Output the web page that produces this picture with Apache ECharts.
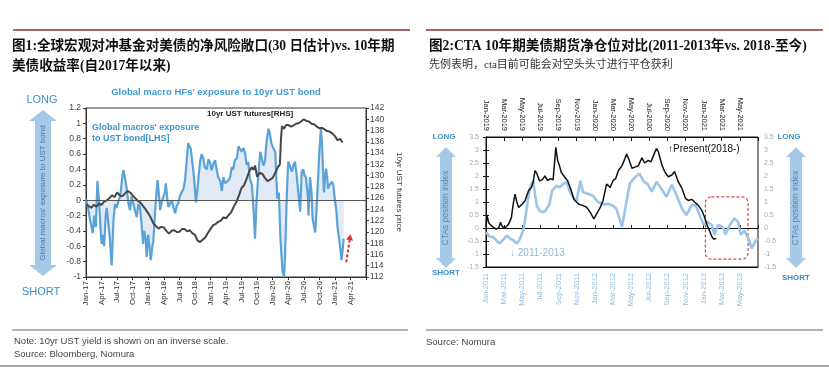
<!DOCTYPE html>
<html><head><meta charset="utf-8">
<script src="https://cdn.jsdelivr.net/npm/echarts/dist/echarts.min.js"></script>
<style>html,body{margin:0;padding:0;background:#fff}#c{width:829px;height:367px}</style>
</head><body><div id="c"></div>
<script>
// ---------- Figure 1 data (x = months since Jan-2017) ----------
const fig1XLabels = ['Jan-17','Apr-17','Jul-17','Oct-17','Jan-18','Apr-18','Jul-18','Oct-18','Jan-19','Apr-19','Jul-19','Oct-19','Jan-20','Apr-20','Jul-20','Oct-20','Jan-21','Apr-21'];
// Global macros' exposure to UST bond (LHS)
const fig1Exposure = [
[0.0,0.02],[0.4,-0.1],[0.8,-0.26],[1.3,-0.43],[1.6,-0.2],[1.9,-0.35],[2.2,0.25],[2.5,0.0],[2.8,-0.35],[3.0,-0.57],
[3.3,-0.45],[3.5,-0.6],[3.8,-0.2],[4.0,-0.1],[4.3,-0.3],[4.6,-0.5],[4.95,-0.85],[5.3,-0.26],[5.6,-0.05],[5.9,-0.1],
[6.3,0.0],[6.6,0.05],[7.0,0.3],[7.2,0.39],[7.5,0.3],[7.8,0.17],[8.2,-0.05],[8.5,-0.13],[8.8,0.05],[9.1,0.04],
[9.5,-0.15],[9.8,-0.22],[10.1,-0.05],[10.4,-0.09],[10.7,-0.3],[11.0,-0.57],[11.2,-0.4],[11.5,-0.5],[11.7,-0.74],[12.0,-0.45],
[12.2,-0.43],[12.5,-0.78],[12.8,-0.6],[13.0,-0.52],[13.3,-0.17],[13.6,0.1],[13.8,0.26],[14.1,0.05],[14.3,-0.13],[14.6,-0.02],
[14.9,-0.04],[15.2,0.1],[15.4,0.22],[15.7,0.0],[15.9,-0.09],[16.2,-0.05],[16.5,0.0],[16.9,-0.1],[17.2,-0.17],[17.5,-0.08],
[17.8,-0.04],[18.1,0.05],[18.5,0.11],[18.8,0.15],[19.1,0.26],[19.4,0.5],[19.7,0.74],[20.0,0.7],[20.2,0.67],[20.5,0.5],
[20.7,0.39],[21.0,0.15],[21.2,-0.03],[21.5,0.15],[21.7,0.3],[22.0,0.5],[22.3,0.6],[22.6,0.55],[22.9,0.43],[23.3,0.4],
[23.6,0.53],[23.9,0.5],[24.2,0.39],[24.6,0.48],[24.9,0.52],[25.2,0.4],[25.5,0.3],[25.9,0.25],[26.2,0.12],[26.5,0.3],
[26.8,0.22],[27.1,0.2],[27.5,0.26],[27.8,0.3],[28.1,0.43],[28.4,0.4],[28.7,0.52],[29.1,0.55],[29.4,0.7],[29.7,0.69],
[30.0,0.63],[30.4,0.68],[30.7,0.6],[31.0,0.46],[31.3,0.5],[31.6,0.28],[32.0,0.2],[32.3,-0.11],[32.6,-0.5],[32.9,0.0],
[33.2,0.3],[33.6,0.63],[33.9,0.55],[34.2,0.45],[34.5,0.5],[34.8,0.75],[35.2,0.93],[35.5,0.85],[35.8,0.73],[36.1,0.68],
[36.5,0.63],[36.7,0.3],[36.9,0.02],[37.2,0.1],[37.5,-0.5],[37.9,-0.93],[38.2,-1.0],[38.4,-0.7],[38.6,-0.24],[38.8,0.2],
[39.0,0.5],[39.3,0.45],[39.7,0.37],[40.0,0.45],[40.3,0.5],[40.6,0.35],[40.8,0.2],[41.1,0.0],[41.3,-0.15],[41.5,0.2],
[41.6,0.37],[41.9,0.4],[42.1,0.33],[42.4,0.3],[42.6,0.28],[42.8,0.05],[42.9,-0.2],[43.1,0.1],[43.2,0.3],[43.5,0.1],
[43.7,-0.24],[44.0,-0.35],[44.2,-0.42],[44.4,-0.2],[44.6,0.07],[44.8,0.35],[45.0,0.63],[45.3,0.93],[45.5,0.75],[45.7,0.4],
[45.9,0.1],[46.1,0.3],[46.3,0.41],[46.5,0.3],[46.7,0.15],[47.0,0.2],[47.4,0.24],[47.7,0.2],[48.0,0.0],[48.3,-0.15],
[48.5,-0.34],[48.8,-0.5],[49.0,-0.6],[49.3,-0.78],[49.5,-0.65],[49.7,-0.5]
];
// 10yr UST futures price (RHS)
const fig1Futures = [
[0,124.9],[0.5,124.6],[1,124.3],[1.5,124.8],[2,124.5],[2.5,125.0],[3,124.8],[3.5,125.4],[4,125.6],[4.5,126.0],
[5,126.5],[5.5,126.2],[6,127.0],[6.5,126.5],[7,126.3],[7.5,126.8],[8,127.3],[8.5,127.0],[9,126.5],[9.5,126.0],
[10,125.5],[10.5,125.2],[11,124.6],[11.5,124.0],[12,123.3],[12.5,122.5],[13,121.5],[13.5,121.0],[14,120.6],[14.5,120.9],
[15,120.8],[15.5,120.2],[16,119.7],[16.5,120.2],[17,120.3],[17.5,120.0],[18,120.0],[18.5,120.5],[19,120.5],[19.5,120.1],
[20,120.3],[20.5,119.8],[21,119.5],[21.5,118.5],[22,118.2],[22.5,118.6],[23,119.0],[23.5,119.8],[24,120.5],[24.5,121.2],
[25,121.4],[25.5,121.8],[26,122.0],[26.5,122.6],[27,122.4],[27.5,123.0],[28,123.5],[28.5,124.5],[29,125.3],[29.5,126.5],
[30,127.8],[30.5,128.3],[31,129.5],[31.5,130.8],[32,131.5],[32.3,131.0],[32.6,131.8],[33,129.8],[33.5,130.5],[34,130.3],
[34.5,129.6],[35,129.0],[35.5,129.3],[36,129.6],[36.5,130.5],[37,131.5],[37.4,132.0],[37.6,136.5],[37.8,138.8],[38.2,138.3],
[38.6,139.0],[39,139.0],[39.5,138.7],[40,138.9],[40.5,139.2],[41,139.3],[41.5,139.6],[42,140.0],[42.5,139.7],[43,139.6],
[43.5,139.2],[44,139.1],[44.5,138.7],[45,138.4],[45.5,138.5],[46,138.2],[46.5,137.9],[47,137.8],[47.5,137.5],[48,137.0],
[48.5,136.3],[49,136.5],[49.5,135.9]
];

// ---------- Figure 2 data (x = months since Jan of first year) ----------
const fig2TopLabels = ['Jan-2019','Mar-2019','May-2019','Jul-2019','Sep-2019','Nov-2019','Jan-2020','Mar-2020','May-2020','Jul-2020','Sep-2020','Nov-2020','Jan-2021','Mar-2021','May-2021'];
const fig2BottomLabels = ['Jan-2011','Mar-2011','May-2011','Jul-2011','Sep-2011','Nov-2011','Jan-2012','Mar-2012','May-2012','Jul-2012','Sep-2012','Nov-2012','Jan-2013','Mar-2013','May-2013'];
// Present (2018-), months since Jan-2019
const fig2Present = [
[0.0,0.05],[0.1,0.5],[0.3,0.2],[0.5,0.12],[0.8,0.03],[1.1,-0.04],[1.4,0.0],[1.6,0.22],[1.8,0.05],[2.1,0.0],
[2.5,0.15],[2.8,0.4],[3.0,0.92],[3.2,1.3],[3.4,1.0],[3.6,0.79],[4.0,0.92],[4.3,1.05],[4.7,1.44],[5.0,1.56],
[5.2,1.76],[5.4,2.21],[5.6,2.1],[5.9,1.82],[6.2,1.85],[6.5,2.0],[6.8,1.82],[7.1,1.9],[7.4,1.85],[7.7,3.1],
[7.9,2.6],[8.1,2.4],[8.3,2.14],[8.7,1.95],[9.0,1.82],[9.4,1.44],[9.7,1.1],[10.2,0.92],[10.7,0.86],[11.1,0.8],
[11.5,0.6],[11.9,0.35],[12.2,0.54],[12.6,0.79],[12.9,1.05],[13.3,1.69],[13.5,1.76],[13.7,1.56],[14.0,1.82],[14.3,1.9],
[14.6,2.2],[15.0,2.4],[15.3,2.65],[15.5,2.85],[15.8,2.6],[16.1,2.3],[16.5,2.35],[16.8,2.4],[17.2,2.7],[17.5,2.5],
[17.9,2.6],[18.2,2.55],[18.6,2.9],[18.8,3.06],[19.0,2.94],[19.4,2.42],[19.7,2.17],[20.1,1.97],[20.5,2.04],[20.8,2.17],
[21.2,1.78],[21.6,1.53],[22.0,1.14],[22.3,1.06],[22.7,1.1],[23.0,1.0],[23.4,0.88],[23.8,0.68],[24.1,0.42],[24.4,0.1],
[24.7,-0.14],[24.9,-0.33],[25.1,-0.42],[25.3,-0.38],[25.4,-0.4]
];
// 2011-2013, months since Jan-2011
const fig2Past = [
[0.0,-0.17],[0.4,-0.33],[0.8,-0.35],[1.1,-0.46],[1.5,-0.6],[1.9,-0.45],[2.3,-0.29],[2.7,-0.42],[3.0,-0.46],[3.4,-0.6],
[3.7,-0.45],[4.1,-0.1],[4.3,0.28],[4.5,0.79],[4.7,1.24],[5.0,1.69],[5.2,1.82],[5.4,1.3],[5.6,0.86],[5.9,0.67],
[6.3,0.6],[6.6,0.67],[7.0,0.92],[7.3,1.44],[7.8,1.63],[8.1,1.56],[8.5,1.69],[8.9,1.76],[9.2,1.44],[9.6,1.18],
[10.0,1.05],[10.4,1.82],[10.7,1.38],[11.3,1.31],[11.8,1.24],[12.4,0.98],[12.9,0.92],[13.5,0.92],[14.0,0.86],[14.4,0.73],
[14.7,0.37],[15.0,0.05],[15.3,0.63],[15.7,1.4],[15.9,1.73],[16.2,1.86],[16.9,2.1],[17.4,1.78],[17.8,1.7],[18.3,1.4],
[18.8,1.78],[19.3,1.53],[19.9,1.2],[20.5,1.66],[21.0,1.27],[21.6,0.76],[22.1,0.5],[22.7,0.88],[23.1,0.88],[23.4,0.63],
[24.0,0.12],[24.4,0.24],[24.9,0.12],[25.2,-0.26],[25.6,0.12],[26.2,0.0],[26.4,-0.26],[26.9,0.12],[27.4,0.37],[27.8,0.24],
[28.1,-0.26],[28.5,-0.1],[29.0,-0.46],[29.3,-0.78],[29.7,-0.52],[30.0,-0.4]
];

const SERIF_CJK = '"Liberation Serif","Noto Sans CJK SC",serif';
const SANS = '"Liberation Sans","Noto Sans CJK SC",sans-serif';
const chart = echarts.init(document.getElementById('c'), null, {renderer:'canvas', width:829, height:367});
const fmt1 = v => String(Math.round(v*10)/10);

const option = {
  animation:false,
  backgroundColor:'#ffffff',
  grid:[
    {left:86, top:108, width:280, height:169, show:true, borderColor:'#333', borderWidth:1, containLabel:false},
    {left:486, top:137, width:272, height:130, show:true, borderColor:'#111', borderWidth:1, containLabel:false}
  ],
  xAxis:[
    {gridIndex:0, type:'value', min:0, max:54, interval:3, position:'bottom',
     axisLine:{show:true, onZero:false, lineStyle:{color:'#333'}},
     axisTick:{show:true, length:3, lineStyle:{color:'#333'}}, splitLine:{show:false},
     axisLabel:{rotate:90, fontSize:8, fontFamily:SANS, color:'#333', margin:4, formatter:v=>fig1XLabels[Math.round(v/3)]||''}},
    {gridIndex:1, type:'value', min:0, max:30, interval:2, position:'top',
     axisLine:{show:true, onZero:false, lineStyle:{color:'#111'}},
     axisTick:{show:true, inside:true, length:4, lineStyle:{color:'#111'}}, splitLine:{show:false},
     axisLabel:{rotate:90, fontSize:7.5, fontFamily:SANS, color:'#222', margin:6, formatter:v=>fig2TopLabels[Math.round(v/2)]||''}},
    {gridIndex:1, type:'value', min:0, max:30, interval:2, position:'bottom',
     axisLine:{show:true, onZero:false, lineStyle:{color:'#111'}},
     axisTick:{show:false}, splitLine:{show:false},
     axisLabel:{rotate:90, fontSize:7.5, fontFamily:SANS, color:'#8dbbe0', margin:6, formatter:v=>fig2BottomLabels[Math.round(v/2)]||''}},
    {gridIndex:1, type:'value', min:0, max:30, interval:2, position:'bottom',
     axisLine:{show:true, onZero:true, onZeroAxisIndex:2, lineStyle:{color:'#111', width:1}},
     axisTick:{show:true, inside:true, length:3, lineStyle:{color:'#111'}}, splitLine:{show:false},
     axisLabel:{show:false}}
  ],
  yAxis:[
    {gridIndex:0, type:'value', min:-1, max:1.2, interval:0.2, position:'left',
     axisLine:{show:true, lineStyle:{color:'#333'}}, axisTick:{show:true, length:3, lineStyle:{color:'#333'}},
     splitLine:{show:false}, axisLabel:{fontSize:8.5, fontFamily:SANS, color:'#444', margin:5, formatter:fmt1}},
    {gridIndex:0, type:'value', min:112, max:142, interval:2, position:'right',
     axisLine:{show:true, lineStyle:{color:'#333'}}, axisTick:{show:true, length:3, lineStyle:{color:'#333'}},
     splitLine:{show:false}, axisLabel:{fontSize:8.5, fontFamily:SANS, color:'#444', margin:4}},
    {gridIndex:1, type:'value', min:-1.5, max:3.5, interval:0.5, position:'left',
     axisLine:{show:true, lineStyle:{color:'#111'}}, axisTick:{show:true, length:3, lineStyle:{color:'#111'}},
     splitLine:{show:false}, axisLabel:{fontSize:7, fontFamily:SANS, color:'#aaa', margin:7, formatter:fmt1}},
    {gridIndex:1, type:'value', min:-1.5, max:3.5, interval:0.5, position:'right',
     axisLine:{show:true, lineStyle:{color:'#111'}}, axisTick:{show:true, length:3, lineStyle:{color:'#111'}},
     splitLine:{show:false}, axisLabel:{fontSize:7, fontFamily:SANS, color:'#aaa', margin:6, formatter:fmt1}}
  ],
  series:[
    {name:'exposure', type:'line', xAxisIndex:0, yAxisIndex:0, data:fig1Exposure, showSymbol:false, symbol:'none',
     lineStyle:{color:'#5aa3d8', width:2.2}, areaStyle:{color:'rgba(170,195,228,0.5)', origin:0}, z:3,
     markLine:{silent:true, symbol:'none', label:{show:false}, lineStyle:{color:'#555', type:'solid', width:1}, data:[{yAxis:0}]}},
    {name:'futures', type:'line', xAxisIndex:0, yAxisIndex:1, data:fig1Futures, showSymbol:false, symbol:'none',
     lineStyle:{color:'#464646', width:2}, z:4},
    {name:'past', type:'line', xAxisIndex:2, yAxisIndex:2, data:fig2Past, showSymbol:false, symbol:'none',
     lineStyle:{color:'#9cc4e6', width:2.6}, z:3},
    {name:'present', type:'line', xAxisIndex:1, yAxisIndex:2, data:fig2Present, showSymbol:false, symbol:'none',
     lineStyle:{color:'#111', width:1.5}, z:4}
  ]
};
chart.setOption(option);

function vArrow(cx, top, bottom, headH, headW, shaftW, fill){
  return {type:'polygon', silent:true, shape:{points:[
    [cx,top],[cx+headW,top+headH],[cx+shaftW,top+headH],[cx+shaftW,bottom-headH],[cx+headW,bottom-headH],
    [cx,bottom],[cx-headW,bottom-headH],[cx-shaftW,bottom-headH],[cx-shaftW,top+headH],[cx-headW,top+headH]]},
    style:{fill:fill}};
}
function txt(x, y, text, font, fill, align, vAlign, rot){
  return {type:'text', silent:true, x:x, y:y, rotation:rot||0,
    style:{text:text, x:0, y:0, font:font, fill:fill, textAlign:align||'left', align:align||'left',
      textVerticalAlign:vAlign||'middle', verticalAlign:vAlign||'middle'}};
}
function hline(x1, x2, y, color, w){
  return {type:'line', silent:true, shape:{x1:x1, y1:y, x2:x2, y2:y}, style:{stroke:color, lineWidth:w}};
}

// annotation anchor points derived from the axes
const a0 = chart.convertToPixel({xAxisIndex:0, yAxisIndex:1}, [50.2, 114.6]);
const a1 = chart.convertToPixel({xAxisIndex:0, yAxisIndex:1}, [51.0, 119.6]);
const r0 = chart.convertToPixel({xAxisIndex:1, yAxisIndex:2}, [24.2, 1.2]);
const r1 = chart.convertToPixel({xAxisIndex:1, yAxisIndex:2}, [28.9, -1.2]);
const ang = Math.atan2(a1[1]-a0[1], a1[0]-a0[0]);
const hx = a1[0], hy = a1[1];
const headLen = 6, headW = 3.5;
const bx = hx - headLen*Math.cos(ang), by = hy - headLen*Math.sin(ang);
const px = -Math.sin(ang), py = Math.cos(ang);

const graphics = [
  // top decorative rules
  hline(13, 410, 30, '#a86662', 1.8),
  hline(426, 823, 30, '#a86662', 1.8),
  // titles
  txt(12, 46, '图1:全球宏观对冲基金对美债的净风险敞口(30 日估计)vs. 10年期', 'bold 13.6px '+SERIF_CJK, '#111'),
  txt(12, 66, '美债收益率(自2017年以来)', 'bold 13.6px '+SERIF_CJK, '#111'),
  txt(429, 46, '图2:CTA 10年期美债期货净仓位对比(2011-2013年vs. 2018-至今)', 'bold 13.6px '+SERIF_CJK, '#111'),
  txt(429, 65, '先例表明，cta目前可能会对空头头寸进行平仓获利', '11px '+SERIF_CJK, '#333'),
  // figure 1 annotations
  txt(216, 92, "Global macro HFs' exposure to 10yr UST bond", 'bold 9.5px '+SANS, '#3f9ad6', 'center'),
  txt(207, 114, '10yr UST futures[RHS]', 'bold 8px '+SANS, '#222'),
  txt(92, 128, "Global macros' exposure", 'bold 9px '+SANS, '#3f95cf'),
  txt(92, 139, 'to UST bond[LHS]', 'bold 9px '+SANS, '#3f95cf'),
  txt(42, 100, 'LONG', '11px '+SANS, '#3d8fc8', 'center'),
  txt(41, 292, 'SHORT', '11px '+SANS, '#3d8fc8', 'center'),
  vArrow(43, 110, 276, 11, 14, 8, '#a6c9e8'),
  txt(43, 193, "Global macros' exposure to UST bond", '8px '+SANS, '#4f77a3', 'center', 'middle', Math.PI/2),
  txt(399, 192, '10yr UST futures price', '8px '+SANS, '#333', 'center', 'middle', -Math.PI/2),
  {type:'line', silent:true, shape:{x1:a0[0], y1:a0[1], x2:bx, y2:by}, style:{stroke:'#d8312b', lineWidth:2, lineDash:[3,2]}},
  {type:'polygon', silent:true, shape:{points:[[hx,hy],[bx+px*headW,by+py*headW],[bx-px*headW,by-py*headW]]}, style:{fill:'#d8312b'}},
  // figure 2 annotations
  txt(444, 137, 'LONG', 'bold 8px '+SANS, '#3d8fc8', 'center'),
  txt(446, 273, 'SHORT', 'bold 8px '+SANS, '#3d8fc8', 'center'),
  txt(789, 137, 'LONG', 'bold 8px '+SANS, '#3d8fc8', 'center'),
  txt(796, 278, 'SHORT', 'bold 8px '+SANS, '#3d8fc8', 'center'),
  vArrow(446, 147, 268, 10, 10, 6, '#a6c9e8'),
  vArrow(796, 147, 268, 10, 10, 6, '#a6c9e8'),
  txt(446, 208, 'CTAs position index', '8.5px '+SANS, '#5a86b3', 'center', 'middle', Math.PI/2),
  txt(796, 208, 'CTAs position index', '8.5px '+SANS, '#5a86b3', 'center', 'middle', Math.PI/2),
  txt(668, 149, '↑Present(2018-)', '10px '+SANS, '#111'),
  txt(510, 253, '↓ 2011-2013', '10px '+SANS, '#8dbbe0'),
  {type:'rect', silent:true, shape:{x:r0[0], y:r0[1], width:r1[0]-r0[0], height:r1[1]-r0[1], r:6},
   style:{fill:'none', stroke:'#d9443f', lineWidth:1.2, lineDash:[3,2]}},
  // footer
  hline(12, 408, 330, '#666', 1),
  hline(426, 823, 330, '#666', 1),
  txt(14, 341, 'Note: 10yr UST yield is shown on an inverse scale.', '9.5px '+SANS, '#444'),
  txt(14, 354, 'Source: Bloomberg, Nomura', '9.5px '+SANS, '#444'),
  txt(426, 342, 'Source: Nomura', '9.5px '+SANS, '#444'),
  hline(0, 829, 366, '#888', 1.5)
];
chart.setOption({graphic:{elements:graphics}});
</script>
</body></html>
